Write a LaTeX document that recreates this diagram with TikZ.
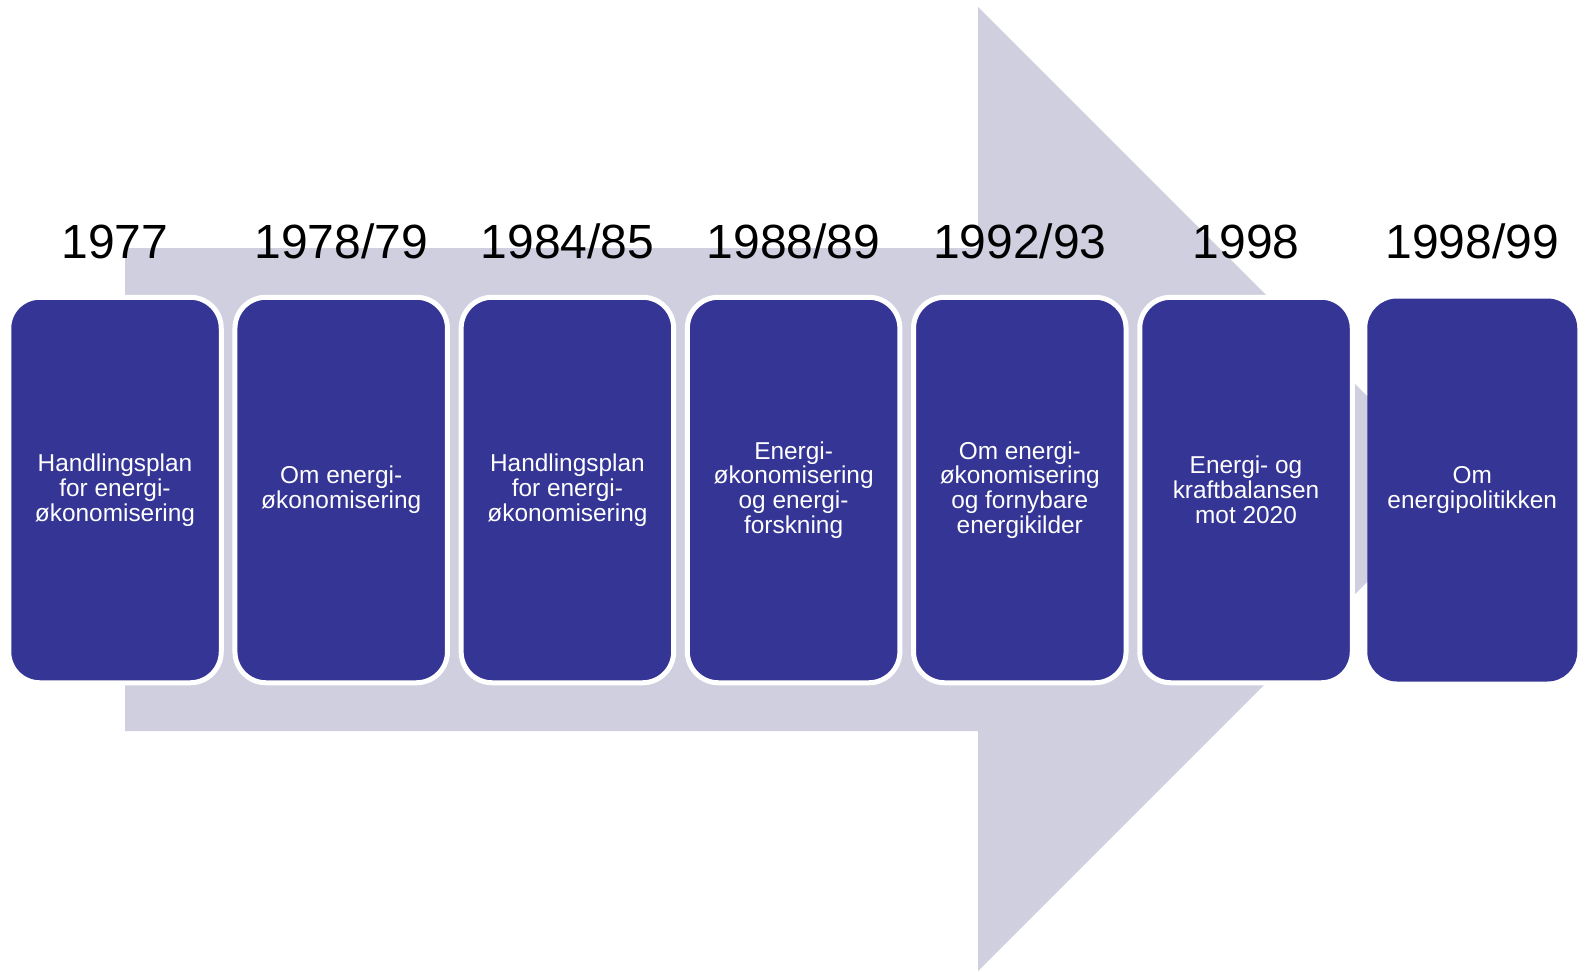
\documentclass[tikz,border=0pt]{standalone}
\usepackage{fontspec}
\setmainfont{Liberation Sans}
\usepackage{xcolor}
\usetikzlibrary{positioning}
\definecolor{docblue}{RGB}{53,53,150}
\definecolor{arrowgrey}{RGB}{207,207,224}

\begin{document}
\begin{tikzpicture}[
  x=0.5pt, y=-0.5pt,
  doc/.style={rectangle, rounded corners=15.5pt, fill=docblue, draw=white,
    line width=2.5pt, minimum width=106.25pt, minimum height=192.75pt,
    inner sep=2pt, outer sep=0pt, text=white, align=center,
    font=\fontsize{12.2}{12.4}\selectfont},
  lastdoc/.style={doc, draw=none, minimum width=105pt, minimum height=191.5pt,
    rounded corners=15pt},
  year/.style={inner sep=0pt, text depth=0pt, font=\fontsize{24}{26}\selectfont},
  node distance=6.85pt
]
\useasboundingbox (0,0) rectangle (1585,971);

% Big background arrow
\fill[arrowgrey] (125,248) -- (978,248) -- (978,7) -- (1460,489)
  -- (978,971) -- (978,731) -- (125,731) -- cycle;

% Document boxes in a single row
\node[doc] (d1) at (115,490) {Handlingsplan\\for energi-\\økonomisering};
\node[doc, right=of d1] (d2) {Om energi-\\økonomisering};
\node[doc, right=of d2] (d3) {Handlingsplan\\for energi-\\økonomisering};
\node[doc, right=of d3] (d4) {Energi-\\økonomisering\\og energi-\\forskning};
\node[doc, right=of d4] (d5) {Om energi-\\økonomisering\\og fornybare\\energikilder};
\node[doc, right=of d5] (d6) {Energi- og\\kraftbalansen\\mot 2020};
\node[lastdoc, right=7.5pt of d6] (d7) {Om\\energipolitikken};

% Year labels
\node[year, above=19pt of d1] {1977};
\node[year, above=19pt of d2] {1978/79};
\node[year, above=19pt of d3] {1984/85};
\node[year, above=19pt of d4] {1988/89};
\node[year, above=19pt of d5] {1992/93};
\node[year, above=19pt of d6] {1998};
\node[year, above=19.6pt of d7] {1998/99};

\end{tikzpicture}
\end{document}
